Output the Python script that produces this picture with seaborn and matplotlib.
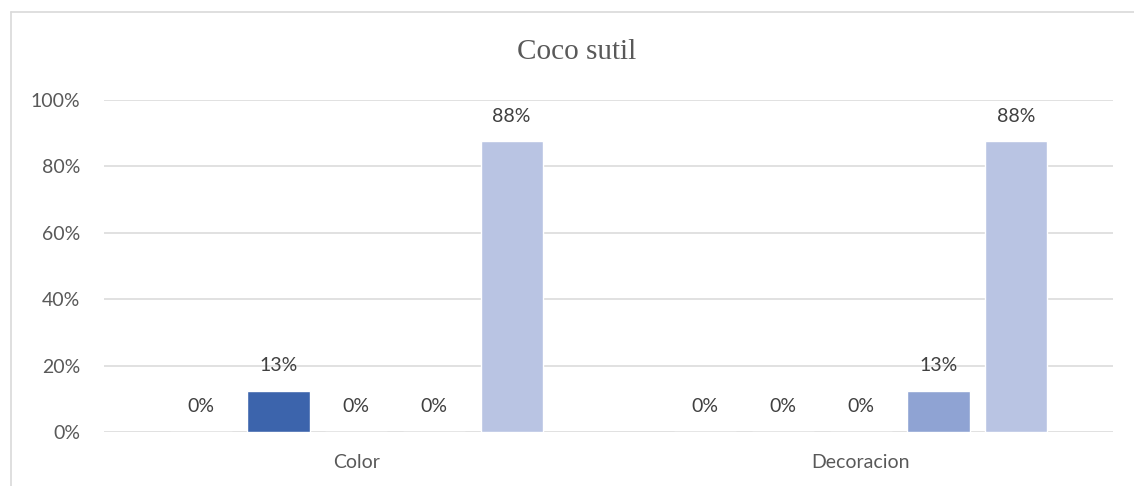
import numpy as np
import pandas as pd
import matplotlib
matplotlib.use("Agg")
import matplotlib.pyplot as plt
from matplotlib.lines import Line2D
import seaborn as sns

# --- datos del grafico ---
categorias = ["Color", "Decoracion"]
series = ["1", "2", "3", "4", "5"]
valores = {
    "1": [0.0, 0.0],
    "2": [0.125, 0.0],
    "3": [0.0, 0.0],
    "4": [0.0, 0.125],
    "5": [0.875, 0.875],
}
colores = ["#203864", "#3C64AC", "#6F8CC8", "#8FA3D3", "#B9C4E3"]
y_ticks = [0, 0.2, 0.4, 0.6, 0.8, 1.0]
titulo = "Coco sutil"

rows = []
for s in series:
    for c, v in zip(categorias, valores[s]):
        rows.append({"categoria": c, "serie": s, "valor": v})
df = pd.DataFrame(rows)

sns.set_style("white")
plt.rcParams["font.family"] = ["Lato", "DejaVu Sans"]

W, H = 1134, 486
fig = plt.figure(figsize=(W / 100, H / 100), dpi=100)
ax = fig.add_axes([104 / W, (H - 432) / H, (1113 - 104) / W, (432 - 100) / H])

sns.barplot(data=df, x="categoria", y="valor", hue="serie", order=categorias,
            hue_order=series, palette=colores, width=0.77, gap=0.2,
            legend=False, ax=ax, saturation=1)

gris = "#595959"
for cont in ax.containers:
    etiquetas = [f"{int(np.floor(b.get_height() * 100 + 0.5))}%" for b in cont]
    ax.bar_label(cont, labels=etiquetas, padding=12, fontsize=14, color="#404040")

ax.set_ylim(0, 1.0)
ax.set_xlim(-0.5, 1.5)
ax.set_yticks(y_ticks)
ax.set_yticklabels([f"{int(t * 100)}%" for t in y_ticks])
ax.set_xlabel("")
ax.set_ylabel("")
ax.grid(axis="y", color="#D9D9D9", linewidth=1.1)
ax.set_axisbelow(True)
for sp in ax.spines.values():
    sp.set_visible(False)
ax.tick_params(axis="both", length=0, labelsize=14, labelcolor=gris)
ax.tick_params(axis="y", pad=17)
ax.tick_params(axis="x", pad=16)

fig.text(577 / W, 1 - 52 / H, titulo, ha="center", va="center",
         fontsize=21, color=gris, family=["Liberation Serif", "DejaVu Serif"])

# borde del area del grafico
fig.add_artist(Line2D([10.5 / W, 10.5 / W], [0, 1 - 12.5 / H], transform=fig.transFigure,
                      color="#D9D9D9", linewidth=1.2))
fig.add_artist(Line2D([10.5 / W, 1], [1 - 12.5 / H, 1 - 12.5 / H], transform=fig.transFigure,
                      color="#D9D9D9", linewidth=1.2))

fig.savefig("out.png", dpi=100, facecolor="white")
